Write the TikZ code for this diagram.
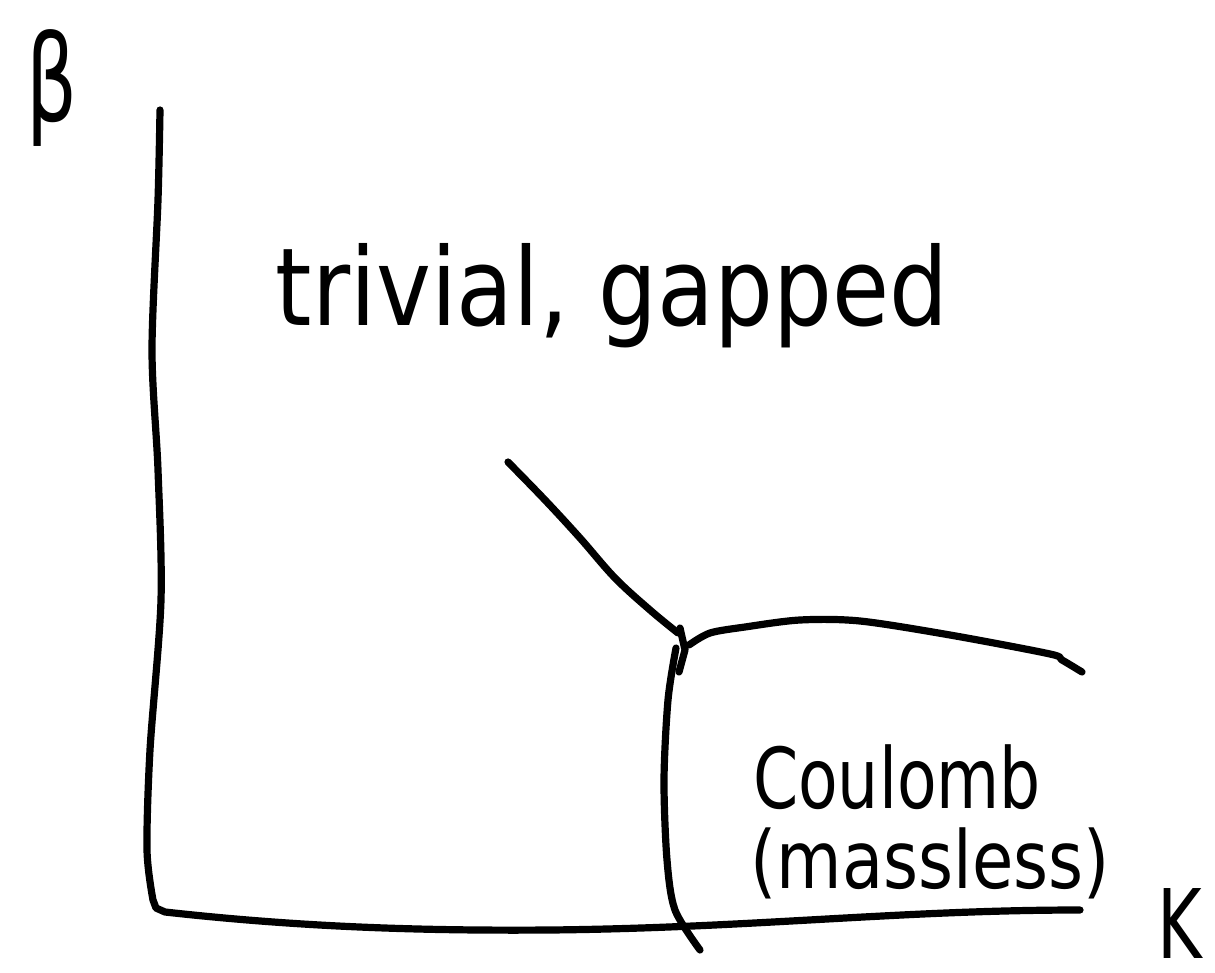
\documentclass[tikz,border=0pt]{standalone}
\usepackage{fontspec}
\newfontfamily\hand{DejaVu Sans}[Scale=1]
\begin{document}
\begin{tikzpicture}[x=0.5pt,y=-0.5pt,
  pen/.style={line width=3.6pt,line cap=round,line join=round},
  lbl/.style={font=\hand\fontsize{40}{40}\selectfont,inner sep=0pt}]
\useasboundingbox (0,0) rectangle (1215,973);
% axes
\draw[pen] plot[smooth,tension=0.5] coordinates {(160,110) (158,200) (152,350) (158,470) (161,600) (150,750) (147,850) (153,900)} -- (156,908) -- (165,912)
  .. controls (300,927) and (420,931) .. (550,930) .. controls (750,928) and (900,910) .. (1080,910);
% phase boundaries
\draw[pen] plot[smooth,tension=0.6] coordinates {(508,462) (545,500) (580,538) (615,578) (650,610) (678,633)};
\draw[pen] (680,628) -- (685,650) -- (679,672);
\draw[pen] plot[smooth,tension=0.5] coordinates {(689,645) (710,633) (745,627) (800,620) (860,621) (950,635) (1050,654) (1062,660) (1082,672)};
\draw[pen] plot[smooth,tension=0.5] coordinates {(676,648) (668,700) (664,780) (667,860) (675,910) (700,950)};
% labels
\node[lbl,yscale=1.5] (beta) at (52,88) {β};
\node[lbl,anchor=base,xscale=0.85,yscale=1.2] (K) at (1180,958) {K};
\node[lbl,anchor=base,xscale=1.16,yscale=1.35] (triv) at (612,325) {trivial, gapped};
\node[lbl,anchor=base,xscale=0.81,yscale=1.05] (coul) at (897,808) {Coulomb};
\node[lbl,anchor=base,xscale=0.84,yscale=1.0] (mass) at (930,888) {(massless)};
\end{tikzpicture}
\end{document}
